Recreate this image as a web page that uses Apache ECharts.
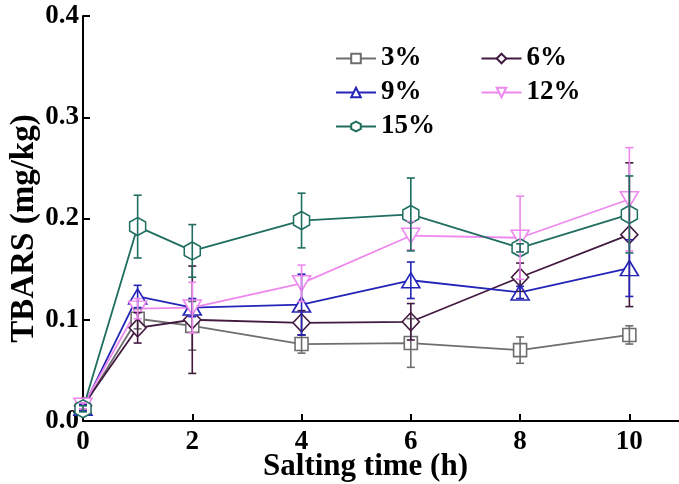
<!DOCTYPE html>
<html><head><meta charset="utf-8">
<script src="https://cdn.jsdelivr.net/npm/echarts@6/dist/echarts.min.js"></script>
<style>html,body{margin:0;padding:0;background:#fff}#c{width:679px;height:484px}</style>
</head><body><div id="c"></div>
<script>
const xs = [0, 1, 2, 4, 6, 8, 10];
const names = ['3%', '6%', '9%', '12%', '15%'];
const s3  = [0.013, 0.101, 0.094, 0.076, 0.077, 0.070, 0.085];
const e3  = [0.003, 0.010, 0.024, 0.009, 0.024, 0.013, 0.009];
const s6  = [0.015, 0.092, 0.100, 0.097, 0.098, 0.142, 0.184];
const e6  = [0.003, 0.015, 0.053, 0.012, 0.018, 0.014, 0.071];
const s9  = [0.013, 0.123, 0.112, 0.115, 0.139, 0.127, 0.151];
const e9  = [0.003, 0.011, 0.009, 0.030, 0.018, 0.006, 0.028];
const s12 = [0.015, 0.111, 0.112, 0.136, 0.183, 0.181, 0.219];
const e12 = [0.003, 0.010, 0.025, 0.018, 0.014, 0.041, 0.051];
const s15 = [0.012, 0.192, 0.168, 0.198, 0.204, 0.171, 0.204];
const e15 = [0.003, 0.031, 0.026, 0.027, 0.036, 0.004, 0.038];

const means = [s3, s6, s9, s12, s15];
const errs = [e3, e6, e9, e12, e15];
const colors = ['#6e6e6e', '#421a40', '#2424b8', '#ee88ee', '#1f6e60'];
const hex = 'path://M5,0 L10,2.9 L10,8.7 L5,11.6 L0,8.7 L0,2.9 Z';
const symbols = ['rect', 'diamond', 'triangle', 'path://M0,0 L10,0 L5,8.66 Z', hex];
const sizes = [[13, 13], [17, 18], [18, 15], [18, 15], [16, 18]];

const font = 'Liberation Serif';
const series = [];
means.forEach((m, i) => {
  series.push({
    name: names[i], type: 'line', z: 3,
    data: xs.map((x, k) => [x, m[k]]),
    symbol: symbols[i], symbolSize: sizes[i],
    lineStyle: { color: colors[i], width: 1.8 },
    itemStyle: { color: '#fff', borderColor: colors[i], borderWidth: 1.6 },
    emphasis: { disabled: true }, animation: false
  });
  series.push({
    name: names[i] + ' err', type: 'custom', z: 4,
    data: xs.map((x, k) => [x, m[k] - errs[i][k], m[k] + errs[i][k]]),
    renderItem: function (params, api) {
      const lo = api.coord([api.value(0), api.value(1)]);
      const hi = api.coord([api.value(0), api.value(2)]);
      const w = 4;
      const st = { stroke: colors[i], lineWidth: 1.6 };
      return { type: 'group', children: [
        { type: 'line', shape: { x1: lo[0], y1: lo[1], x2: hi[0], y2: hi[1] }, style: st },
        { type: 'line', shape: { x1: lo[0] - w, y1: lo[1], x2: lo[0] + w, y2: lo[1] }, style: st },
        { type: 'line', shape: { x1: hi[0] - w, y1: hi[1], x2: hi[0] + w, y2: hi[1] }, style: st }
      ]};
    },
    animation: false
  });
});

const legendBase = {
  orient: 'horizontal', left: 330, itemWidth: 40, itemHeight: 12, itemGap: 59,
  textStyle: { fontFamily: font, fontWeight: 'bold', fontSize: 27, color: '#000' },
  selectedMode: false
};

const chart = echarts.init(document.getElementById('c'), null, { renderer: 'canvas' });
chart.setOption({
  backgroundColor: '#fff',
  animation: false,
  grid: { left: 83, right: -5, top: 16, bottom: 63, containLabel: false, outerBoundsMode: 'none' },
  legend: [
    Object.assign({}, legendBase, { top: 40, data: ['3%', '6%'] }),
    Object.assign({}, legendBase, { top: 74, data: ['9%', '12%'] }),
    Object.assign({}, legendBase, { top: 108, data: ['15%'] })
  ],
  xAxis: {
    type: 'value', min: 0, max: 11, interval: 2,
    name: 'Salting time (h)', nameLocation: 'middle', nameGap: 30, nameMoveOverlap: false,
    nameTextStyle: { fontFamily: font, fontWeight: 'bold', fontSize: 31, color: '#000', padding: [0, 36, 0, 0] },
    axisLine: { lineStyle: { color: '#000', width: 2 } },
    axisTick: { inside: true, length: 7, lineStyle: { color: '#000', width: 2 } },
    axisLabel: { margin: 8, fontFamily: font, fontWeight: 'bold', fontSize: 27, color: '#000',
      formatter: v => (v <= 10 ? String(v) : '') },
    splitLine: { show: false }
  },
  yAxis: {
    type: 'value', min: 0, max: 0.4, interval: 0.1,
    name: 'TBARS (mg/kg)', nameLocation: 'middle', nameGap: 42, nameMoveOverlap: false,
    nameTextStyle: { fontFamily: font, fontWeight: 'bold', fontSize: 33, color: '#000', padding: [0, 20, 0, 0] },
    axisLine: { show: true, lineStyle: { color: '#000', width: 2 } },
    axisTick: { show: true, inside: true, length: 7, lineStyle: { color: '#000', width: 2 } },
    axisLabel: { margin: 4, fontFamily: font, fontWeight: 'bold', fontSize: 27, color: '#000',
      formatter: v => v.toFixed(1) },
    splitLine: { show: false }
  },
  series: series
});
</script></body></html>
